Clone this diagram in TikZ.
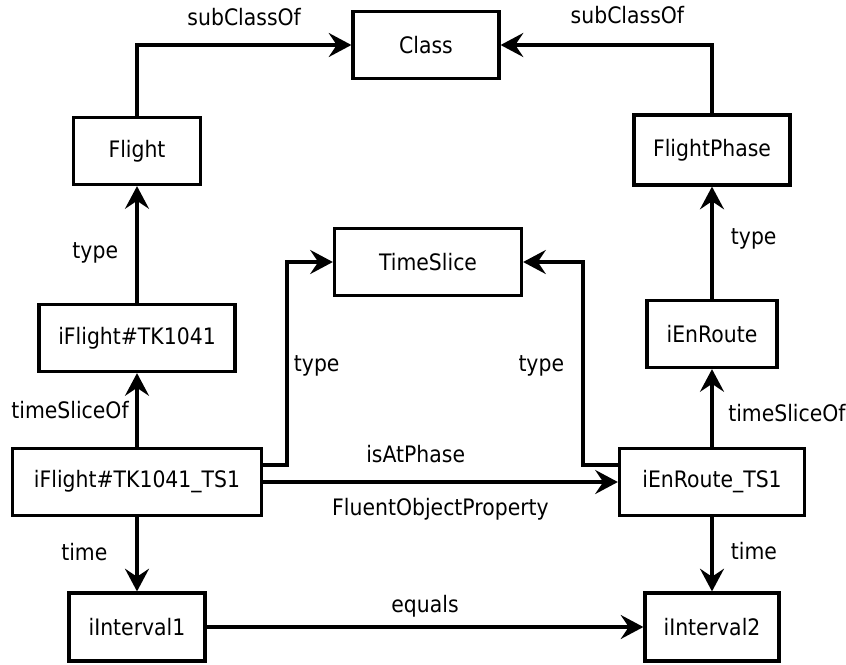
\documentclass[tikz,border=0pt]{standalone}
\usepackage{fontspec}
\setmainfont{DejaVu Sans}[FakeStretch=0.9]
\usetikzlibrary{arrows.meta}

\begin{document}
\begin{tikzpicture}[x=0.75pt, y=-0.75pt, font=\fontsize{17}{20}\selectfont,
    box/.style={draw, line width=2.4pt, inner sep=0pt, minimum height=50.3pt},
    rel/.style={line width=2.4pt, -{Stealth[length=17pt, width=18pt, inset=6pt]}},
    lbl/.style={inner sep=1pt}]

    \useasboundingbox (0,0) rectangle (846,664);

    % 1. Classes
    \node[box, minimum width=109.5pt] (cls) at (426,45) {Class};
    \node[box, minimum width=95.3pt] (flight) at (137,151) {Flight};
    \node[box, minimum width=117pt, minimum height=52.5pt] (phase) at (712,150) {FlightPhase};
    \node[box, minimum width=140.3pt] (tslice) at (428,262) {TimeSlice};

    % 2. Individuals and time slices
    \node[box, minimum width=147pt] (flt) at (137,338) {iFlight\#TK1041};
    \node[box, minimum width=97.5pt] (enr) at (712,334) {iEnRoute};
    \node[box, minimum width=186.8pt] (fltts) at (137,482) {iFlight\#TK1041\_TS1};
    \node[box, minimum width=138.8pt] (enrts) at (712,482) {iEnRoute\_TS1};
    \node[box, minimum width=102pt, minimum height=51pt] (int1) at (137,627) {iInterval1};
    \node[box, minimum width=100.5pt, minimum height=51pt] (int2) at (712,627) {iInterval2};

    % 3. Bends of the type links
    \coordinate (tbendL) at (287,262);
    \coordinate (tbendR) at (583,262);

    % 4. Relations
    \draw[rel] (flight.north) |- (cls.west) node[lbl, pos=0.75, above=12pt] {subClassOf};
    \draw[rel] (phase.north) |- (cls.east) node[lbl, pos=0.70, above=14pt] {subClassOf};

    \draw[rel] (flt) -- (flight) node[lbl, pos=0.43, left=12pt] {type};
    \draw[rel] (enr) -- (phase) node[lbl, pos=0.53, right=12pt] {type};

    \draw[rel] (fltts) -- (flt) node[lbl, pos=0.5, left=4pt] {timeSliceOf};
    \draw[rel] (enrts) -- (enr) node[lbl, pos=0.44, right=10pt] {timeSliceOf};

    \draw[rel] ([yshift=12.75pt]fltts.east) -| (tbendL) node[lbl, pos=0.745, right=3pt] {type} -- (tslice.west);
    \draw[rel] ([yshift=12.75pt]enrts.west) -| (tbendR) node[lbl, pos=0.745, left=12pt] {type} -- (tslice.east);

    \draw[rel] (fltts) -- (enrts)
        node[lbl, pos=0.43, above=12pt] {isAtPhase}
        node[lbl, pos=0.5, below=10pt] {FluentObjectProperty};

    \draw[rel] (fltts) -- (int1) node[lbl, pos=0.47, left=20pt] {time};
    \draw[rel] (enrts) -- (int2) node[lbl, pos=0.46, right=12pt] {time};

    \draw[rel] (int1) -- (int2) node[lbl, pos=0.5, above=5pt] {equals};

\end{tikzpicture}
\end{document}
